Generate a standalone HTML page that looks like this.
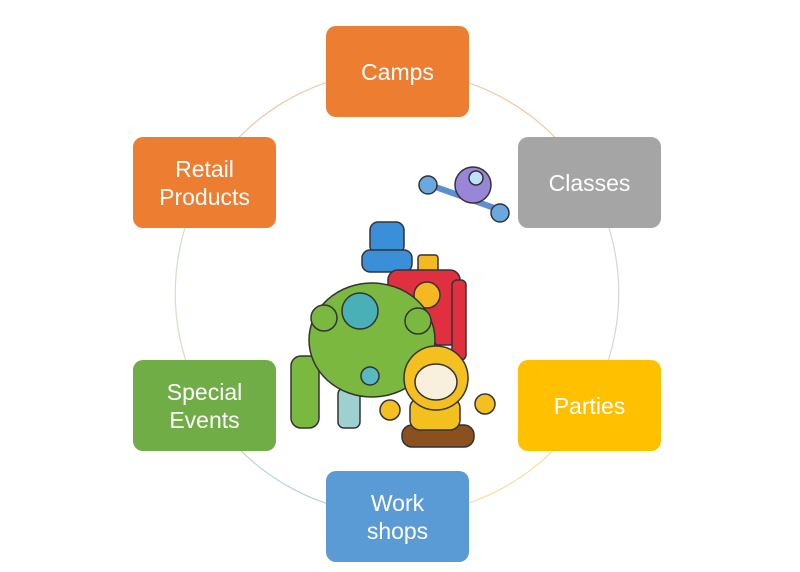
<!DOCTYPE html>
<html><head><meta charset="utf-8"><style>
html,body{margin:0;padding:0;background:#fff;}
body{width:800px;height:572px;position:relative;overflow:hidden;font-family:"Liberation Sans",sans-serif;}
.b{position:absolute;width:143px;height:91px;border-radius:10px;color:#fff;font-size:23px;line-height:28px;display:flex;align-items:center;justify-content:center;text-align:center;}
svg{position:absolute;left:0;top:0;}
</style></head><body>
<svg width="800" height="572" viewBox="0 0 800 572">
 <path d="M397 71 A222 222 0 0 1 589 182" fill="none" stroke="#f0c8a8" stroke-width="1.2"/>
 <path d="M589 182 A222 222 0 0 1 589 404" fill="none" stroke="#d6d6d6" stroke-width="1.2"/>
 <path d="M589 404 A222 222 0 0 1 397 515" fill="none" stroke="#f5e0a0" stroke-width="1.2"/>
 <path d="M397 515 A222 222 0 0 1 205 404" fill="none" stroke="#b8d0ea" stroke-width="1.2"/>
 <path d="M205 404 A222 222 0 0 1 205 182" fill="none" stroke="#cfe3c0" stroke-width="1.2"/>
 <path d="M205 182 A222 222 0 0 1 397 71" fill="none" stroke="#f0c8a8" stroke-width="1.2"/>
 <g stroke="#333" stroke-width="1.5">
  <!-- flying robot -->
  <line x1="430" y1="185" x2="500" y2="210" stroke="#5b8fd0" stroke-width="6"/>
  <circle cx="428" cy="185" r="9" fill="#6aa8e0"/>
  <circle cx="500" cy="213" r="9" fill="#6aa8e0"/>
  <circle cx="473" cy="185" r="18" fill="#9a86d8"/>
  <circle cx="476" cy="178" r="7" fill="#bfe0f5"/>
  <!-- blue robot -->
  <rect x="370" y="222" width="34" height="32" rx="8" fill="#3a8fd8"/>
  <rect x="362" y="250" width="50" height="22" rx="8" fill="#3a8fd8"/>
  <!-- red robot -->
  <rect x="418" y="255" width="20" height="18" rx="3" fill="#f4b820"/>
  <rect x="388" y="270" width="72" height="75" rx="10" fill="#e03040"/>
  <rect x="452" y="280" width="14" height="80" rx="5" fill="#e03040"/>
  <circle cx="427" cy="295" r="13" fill="#f4b820"/>
  <!-- green robot -->
  <rect x="291" y="356" width="28" height="72" rx="10" fill="#7ab840"/>
  <rect x="415" y="340" width="22" height="50" rx="8" fill="#7ab840"/>
  <rect x="338" y="388" width="22" height="40" rx="6" fill="#9fd0d0"/>
  <ellipse cx="372" cy="340" rx="63" ry="57" fill="#7ab840"/>
  <circle cx="360" cy="311" r="18" fill="#4ab0b8"/>
  <circle cx="324" cy="318" r="13" fill="#7ab840"/>
  <circle cx="418" cy="321" r="13" fill="#7ab840"/>
  <circle cx="370" cy="376" r="9" fill="#5ab8c0"/>
  <!-- yellow robot -->
  <rect x="402" y="425" width="72" height="22" rx="10" fill="#8a5020"/>
  <rect x="410" y="398" width="50" height="32" rx="10" fill="#f4c020"/>
  <circle cx="390" cy="410" r="10" fill="#f4c020"/>
  <circle cx="485" cy="404" r="10" fill="#f4c020"/>
  <circle cx="436" cy="378" r="32" fill="#f4c020"/>
  <ellipse cx="436" cy="382" rx="21" ry="18" fill="#f8f0dc"/>
 </g>
</svg>
<div class="b" style="left:326px;top:26px;background:#ed7d31">Camps</div>
<div class="b" style="left:518px;top:137px;background:#a5a5a5">Classes</div>
<div class="b" style="left:518px;top:360px;background:#ffc000">Parties</div>
<div class="b" style="left:326px;top:471px;background:#5b9bd5">Work<br>shops</div>
<div class="b" style="left:133px;top:360px;background:#70ad47">Special<br>Events</div>
<div class="b" style="left:133px;top:137px;background:#ed7d31">Retail<br>Products</div>
</body></html>
